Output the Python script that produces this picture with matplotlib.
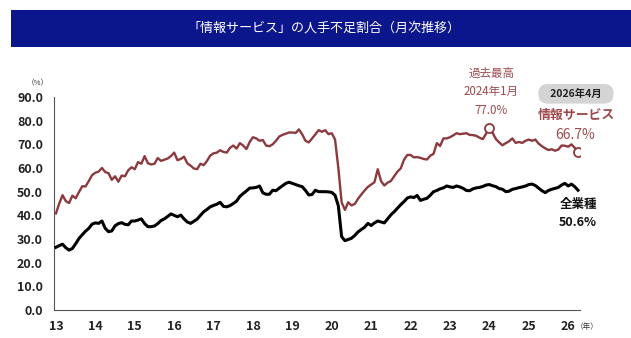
import matplotlib
matplotlib.use("Agg")
import matplotlib.pyplot as plt
import numpy as np
from matplotlib.patches import Rectangle

plt.rcParams['font.family'] = ['Noto Sans CJK JP', 'DejaVu Sans']

# ---- data (monthly, Jan 2013 - Apr 2026) ----
start_year = 2013
info_service = [
    # 2013
    40.8, 45.0, 48.5, 46.0, 45.2, 48.3, 47.2, 49.8, 52.3, 52.2, 54.5, 57.0,
    # 2014
    58.0, 58.5, 60.0, 58.3, 57.8, 55.0, 56.5, 54.2, 56.8, 56.5, 59.0, 60.3,
    # 2015
    59.5, 62.5, 61.8, 65.0, 62.0, 61.5, 61.8, 64.2, 63.0, 63.5, 64.0, 65.0,
    # 2016
    66.5, 63.3, 63.8, 64.8, 62.0, 61.0, 59.8, 59.5, 61.8, 61.2, 63.0, 65.3,
    # 2017
    66.2, 66.5, 67.5, 66.8, 66.5, 68.5, 69.5, 68.2, 70.5, 69.5, 68.0, 71.0,
    # 2018
    73.0, 72.5, 71.5, 71.8, 69.5, 69.2, 70.0, 71.5, 73.3, 74.0, 74.5, 75.0,
    # 2019
    75.0, 74.8, 76.3, 74.2, 71.5, 70.8, 72.5, 74.2, 76.0, 75.3, 76.0, 74.3,
    # 2020
    74.7, 72.0, 60.0, 45.5, 42.3, 45.5, 44.2, 44.8, 47.0, 48.8, 50.5, 52.0,
    # 2021
    53.0, 54.0, 59.5, 54.5, 52.6, 53.8, 54.5, 56.5, 58.5, 59.8, 63.5, 65.5,
    # 2022
    65.5, 64.5, 64.6, 64.3, 63.8, 63.6, 65.2, 66.0, 70.5, 69.3, 72.5, 72.5,
    # 2023
    73.0, 73.8, 74.7, 74.3, 74.5, 74.7, 74.0, 73.9, 73.6, 72.8, 72.2, 74.5,
    # 2024
    77.0, 74.8, 72.2, 70.8, 69.6, 70.5, 71.3, 72.5, 70.6, 71.0, 70.6, 71.5,
    # 2025
    72.0, 71.5, 72.0, 70.3, 69.2, 68.3, 67.6, 67.9, 67.3, 67.8, 69.5, 69.4,
    # 2026
    69.0, 70.0, 68.5, 66.7,
]
all_industries = [
    # 2013
    26.5, 27.2, 27.8, 26.3, 25.3, 26.0, 28.0, 30.2, 31.8, 33.3, 34.5, 36.3,
    # 2014
    36.8, 36.6, 37.6, 34.5, 33.1, 33.4, 35.6, 36.5, 36.9, 36.2, 36.0, 37.6,
    # 2015
    37.6, 38.0, 38.5, 36.5, 35.2, 35.2, 35.5, 36.5, 37.8, 38.5, 39.5, 40.6,
    # 2016
    40.0, 39.4, 40.1, 38.5, 37.2, 36.6, 37.5, 38.4, 40.0, 41.5, 42.5, 43.6,
    # 2017
    44.2, 44.7, 45.5, 43.8, 43.6, 44.1, 45.0, 46.0, 48.0, 49.2, 50.3, 51.5,
    # 2018
    51.6, 51.8, 52.4, 49.5, 48.9, 48.9, 50.6, 50.4, 51.5, 52.5, 53.5, 54.0,
    # 2019
    53.5, 53.0, 52.5, 52.1, 50.5, 48.6, 48.8, 50.6, 50.0, 50.0, 50.0, 49.9,
    # 2020
    49.7, 48.5, 44.0, 31.0, 29.3, 29.8, 30.3, 31.5, 33.0, 34.0, 35.0, 36.6,
    # 2021
    35.7, 36.8, 37.6, 37.2, 36.8, 38.5, 40.2, 41.5, 43.0, 44.5, 45.8, 47.3,
    # 2022
    47.8, 47.5, 48.4, 46.3, 46.8, 47.2, 48.5, 50.0, 50.5, 51.2, 51.6, 52.4,
    # 2023
    52.0, 51.8, 52.4, 52.0, 51.4, 50.5, 50.4, 51.2, 51.6, 51.8, 52.2, 52.8,
    # 2024
    53.0, 52.5, 52.1, 51.3, 51.0, 50.0, 50.2, 51.0, 51.3, 51.7, 52.0, 52.4,
    # 2025
    53.0, 53.2, 52.6, 51.5, 50.4, 49.6, 50.5, 51.0, 51.4, 51.8, 52.8, 53.5,
    # 2026
    52.4, 53.2, 52.1, 50.6,
]
year_ticks = list(range(2013, 2027))
year_labels = [str(y % 100) for y in year_ticks]
y_ticks = [0, 10, 20, 30, 40, 50, 60, 70, 80, 90]

title = "「情報サービス」の人手不足割合（月次推移）"
peak_index = 132  # Jan 2024

# ---- figure ----
W, H = 631, 338
fig = plt.figure(figsize=(W / 100, H / 100), dpi=100)
fig.patch.set_facecolor('white')

# title banner
fig.patches.append(Rectangle((11 / W, 1 - 47 / H), 1 - 11 / W, 37 / H,
                             transform=fig.transFigure, facecolor='#0c168c',
                             edgecolor='none', zorder=0))
fig.text(324 / W, 1 - 28.5 / H, title, color='white', fontsize=9.4,
         ha='center', va='center')

ax = fig.add_axes([54 / W, 1 - 310 / H, (580 - 54) / W, (310 - 97) / H])
t = start_year + np.arange(len(info_service)) / 12.0

red = '#8c3a3e'
red_txt = '#9e4a4d'

ax.plot(t, info_service, color=red, lw=1.7, solid_joinstyle='round', zorder=3)
ax.plot(t, all_industries, color='black', lw=2.2, solid_joinstyle='round', zorder=3)

# markers
ax.plot([t[peak_index]], [info_service[peak_index]], 'o', ms=6.5, mfc='white',
        mec=red, mew=1.3, zorder=4)
ax.plot([t[-1]], [info_service[-1]], 'o', ms=6.5, mfc='white',
        mec=red, mew=1.3, zorder=4)

ax.set_xlim(2012.95, 2026.30)
ax.set_ylim(0, 90)
ax.set_xticks(year_ticks)
ax.set_xticklabels(year_labels)
ax.set_yticks(y_ticks)
ax.set_yticklabels([f"{v:.1f}" for v in y_ticks])
ax.tick_params(axis='both', length=0, labelsize=9, colors='#222222')
ax.tick_params(axis='x', pad=7)
ax.tick_params(axis='y', pad=8)
for lab in ax.get_xticklabels() + ax.get_yticklabels():
    lab.set_fontweight('bold')
for s in ['top', 'right']:
    ax.spines[s].set_visible(False)
for s in ['left', 'bottom']:
    ax.spines[s].set_color('#555555')
    ax.spines[s].set_linewidth(0.8)

# unit labels
ax.annotate("（%）", xy=(0, 1), xycoords='axes fraction', xytext=(-12, 10),
            textcoords='offset points', fontsize=5.5, ha='center', va='center',
            color='#333333')
ax.annotate("（年）", xy=(2026, 0), xycoords='data', xytext=(14, -12),
            textcoords='offset points', fontsize=5.5, ha='center', va='center',
            color='#333333', annotation_clip=False)

# peak annotation
px, py = t[peak_index], info_service[peak_index]
for txt, dy in [("77.0%", 12.5), ("2024年1月", 26), ("過去最高", 39.5)]:
    ax.annotate(txt, xy=(px, py), xytext=(1.5, dy), textcoords='offset points',
                fontsize=8.3, ha='center', va='center', color=red_txt,
                annotation_clip=False)

# end annotations (info service)
ex, ey = t[-1], info_service[-1]
ax.annotate("   2026年4月   ", xy=(ex, ey), xytext=(-1.5, 42), textcoords='offset points',
            fontsize=7.5, fontweight='bold', ha='center', va='center', color='#222222',
            bbox=dict(boxstyle='round,pad=0.45,rounding_size=0.9', fc='#d4d4d4', ec='none'),
            annotation_clip=False)
ax.annotate("情報サービス", xy=(ex, ey), xytext=(-1.5, 27), textcoords='offset points',
            fontsize=9.3, fontweight='bold', ha='center', va='center', color=red_txt,
            annotation_clip=False)
ax.annotate(f"{info_service[-1]:.1f}%", xy=(ex, ey), xytext=(-2, 12),
            textcoords='offset points', fontsize=10, ha='center', va='center',
            color=red_txt, annotation_clip=False)

# end annotations (all industries)
bx, by = t[-1], all_industries[-1]
ax.annotate("全業種", xy=(bx, by), xytext=(0, -10), textcoords='offset points',
            fontsize=9, fontweight='bold', ha='center', va='center', color='#111111',
            annotation_clip=False)
ax.annotate(f"{all_industries[-1]:.1f}%", xy=(bx, by), xytext=(0, -23),
            textcoords='offset points', fontsize=9, fontweight='bold', ha='center',
            va='center', color='#111111', annotation_clip=False)

fig.savefig("out.png", dpi=100, facecolor='white')
